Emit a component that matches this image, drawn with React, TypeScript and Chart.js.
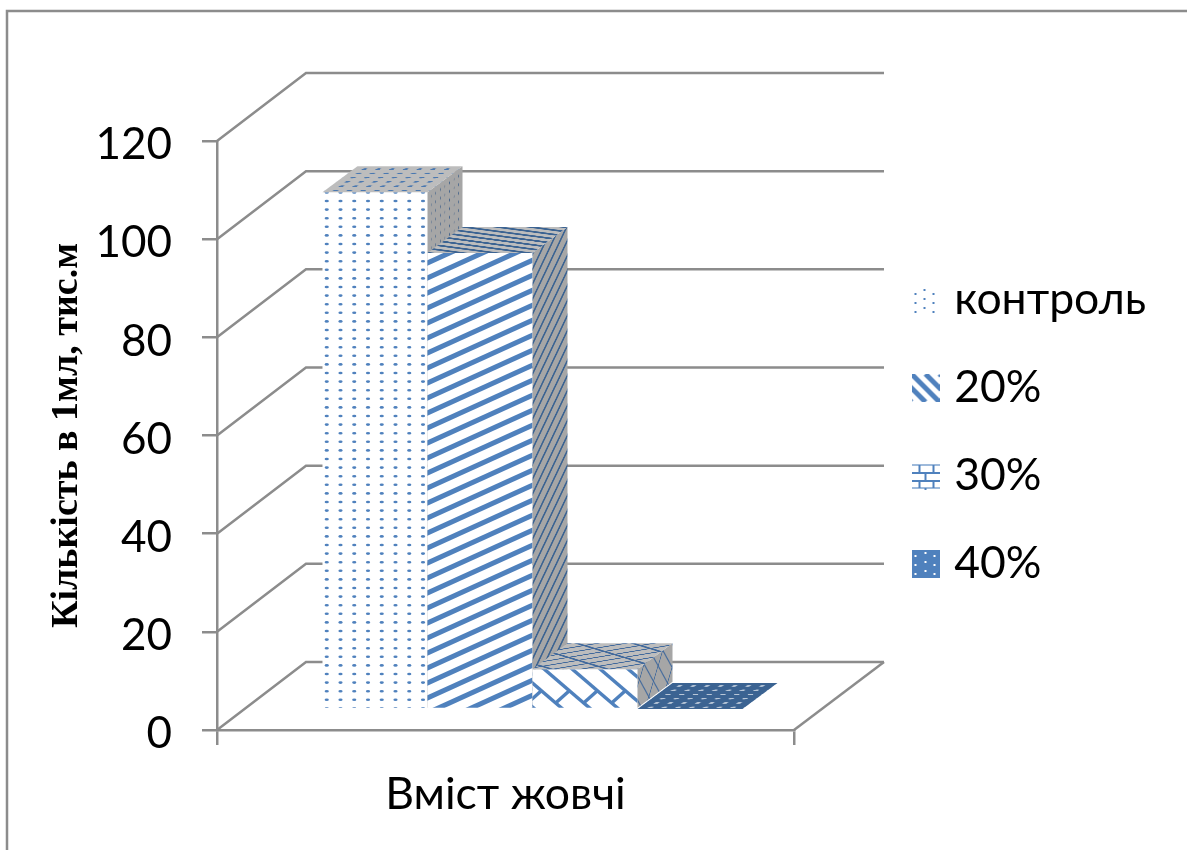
import React, { useEffect, useRef } from "react";
import { Chart, registerables } from "chart.js";

Chart.register(...registerables);

const categories = ["Вміст жовчі"];
const seriesNames = ["контроль", "20%", "30%", "40%"];
const controlValues = [105.3];
const bile20Values = [92.9];
const bile30Values = [8.1];
const bile40Values = [0];
const yTickStep = 20;
const yMax = 120;

const SANS = "Lato, 'Noto Sans', sans-serif";
const SERIF = "'Liberation Serif', serif";
const GRID = "#8c8c8c";
const GRID_WIDTH = 2.5;
const BLUE = "#4f81bd";
const DARK_BLUE = "#3b6392";
const TOP_GREY = "#bdbdbd";
const SIDE_GREY = "#a6a6a6";

// Oblique projection of the chart box: full wall depth, and the bars' place in it.
const WALL_DX = 89;
const WALL_DY = 68;
const BAR_SHIFT_X = 27;
const BAR_SHIFT_Y = 21;
const BAR_DX = 35;
const BAR_DY = 26;
const TEXTURE_SIZE = 105;

type Painter = (c: CanvasRenderingContext2D, w: number, h: number) => void;

function tile(w: number, h: number, bg: string | null, paint: Painter) {
  const el = document.createElement("canvas");
  el.width = w;
  el.height = h;
  const c = el.getContext("2d") as CanvasRenderingContext2D;
  if (bg) {
    c.fillStyle = bg;
    c.fillRect(0, 0, w, h);
  }
  paint(c, w, h);
  return el;
}

// Dots on a 13.75 px column grid; `rowStep` is 8.6 on upright faces and 17.2 on lying ones.
function dotTile(bg: string, fg: string, rx: number, ry: number, rowStep = 8.6) {
  return tile(55, 86, bg, (c) => {
    c.fillStyle = fg;
    const rows = Math.round(86 / rowStep);
    for (let i = -1; i < 5; i++) {
      for (let j = -1; j <= rows; j++) {
        c.beginPath();
        c.ellipse(11 + i * 13.75, 7 + j * rowStep, rx, ry, 0, 0, Math.PI * 2);
        c.fill();
      }
    }
  });
}

function stripeTile(bg: string, fg: string, lw: number) {
  return tile(33, 15, bg, (c, w, h) => {
    c.strokeStyle = fg;
    c.lineWidth = lw;
    for (let k = -2; k < 4; k++) {
      c.beginPath();
      c.moveTo(-w, 1 + h * k + h);
      c.lineTo(w * 2, 1 + h * k - 2 * h);
      c.stroke();
    }
  });
}

// Long diagonals joined by short rungs: staggered rungs read as bricks,
// aligned rungs with a wide step read as one zigzag band.
function brickTile(bg: string, fg: string, lw: number, zigzag = false) {
  return tile(56, 48, bg, (c) => {
    c.strokeStyle = fg;
    c.lineWidth = lw;
    const slope = 48 / 56;
    for (let i = -6; i < 8; i++) {
      const x0 = 20 + i * 28;
      c.beginPath();
      c.moveTo(x0 - 56, -48);
      c.lineTo(x0 + 112, 96);
      c.stroke();
      const stagger = zigzag ? 4.67 : (i + 100) % 2 === 0 ? 0 : 14;
      const step = zigzag ? 56 : 28;
      for (let k = -4; k < 8; k++) {
        const t = stagger + k * step;
        c.beginPath();
        c.moveTo(x0 + t, slope * t);
        c.lineTo(x0 + t + 13.66, slope * t - 12.3);
        c.stroke();
      }
    }
  });
}

function legendSwatches() {
  const dots = tile(28, 28, null, (c) => {
    c.fillStyle = BLUE;
    [[3, 7], [3, 16], [3, 25], [12, 3], [12, 12], [12, 21], [21, 7], [21, 16], [21, 25]].forEach(([x, y]) =>
      c.fillRect(x, y, 2, 2)
    );
  });
  const diag = tile(28, 28, "#ffffff", (c) => {
    c.strokeStyle = BLUE;
    c.lineWidth = 5;
    for (let k = -3; k < 3; k++) {
      c.beginPath();
      c.moveTo(k * 14, 0);
      c.lineTo(k * 14 + 28, 28);
      c.stroke();
    }
  });
  const brick = tile(28, 28, "#ffffff", (c) => {
    c.strokeStyle = BLUE;
    c.lineWidth = 2;
    [3, 11, 19, 26].forEach((y, i) => {
      c.globalAlpha = i === 0 || i === 3 ? 0.55 : 1;
      c.beginPath();
      c.moveTo(0, y);
      c.lineTo(28, y);
      c.stroke();
    });
    c.globalAlpha = 1;
    [[8, 3, 11], [22, 3, 11], [14, 11, 19], [8, 19, 26], [22, 19, 26], [14, 26, 28]].forEach(([x, a, b]) => {
      c.beginPath();
      c.moveTo(x, a);
      c.lineTo(x, b);
      c.stroke();
    });
  });
  const solid = tile(28, 28, BLUE, (c) => {
    c.fillStyle = "#ffffff";
    [[3, 5], [3, 14], [3, 23], [13, 2], [13, 11], [13, 20], [22, 5], [22, 14], [22, 23]].forEach(([x, y]) =>
      c.fillRect(x, y, 2, 2)
    );
  });
  return [dots, diag, brick, solid];
}

export default function App() {
  const ref = useRef<HTMLCanvasElement>(null);

  useEffect(() => {
    const canvas = ref.current as HTMLCanvasElement;
    const ctx = canvas.getContext("2d") as CanvasRenderingContext2D;
    const pat = (el: HTMLCanvasElement) => ctx.createPattern(el, "repeat") as CanvasPattern;

    const faces = [
      {
        front: pat(dotTile("#ffffff", BLUE, 2.1, 1.3)),
        top: pat(dotTile(TOP_GREY, "#4a78b0", 2.6, 3, 17.2)),
        side: pat(dotTile(SIDE_GREY, "#3f5f88", 1, 1.6)),
      },
      {
        front: pat(stripeTile("#ffffff", BLUE, 5)),
        top: pat(stripeTile(TOP_GREY, DARK_BLUE, 5.5)),
        side: pat(stripeTile(SIDE_GREY, DARK_BLUE, 3.4)),
      },
      {
        front: pat(brickTile("#ffffff", BLUE, 3.4, true)),
        top: pat(brickTile(TOP_GREY, "#41699c", 3.6)),
        side: pat(brickTile(SIDE_GREY, "#41699c", 1.8)),
      },
      {
        front: pat(dotTile(DARK_BLUE, "#dbe3ec", 2, 1.2)),
        top: pat(dotTile(DARK_BLUE, "#b9c7d8", 2.6, 3, 17.2)),
        side: pat(dotTile(DARK_BLUE, "#d3dde8", 1, 1.6)),
      },
    ];
    const swatches = legendSwatches();
    const seriesValues = [controlValues, bile20Values, bile30Values, bile40Values];

    const projection = {
      id: "projection",
      beforeLayout(chart: any) {
        // The legend reserves the space that the box's depth needs on the right.
        const legend = chart.legend;
        if (!legend.fixedFit) {
          const fit = legend.fit;
          legend.fit = function () {
            fit.call(this);
            this.width = 393;
          };
          legend.fixedFit = true;
        }
      },
      afterLayout(chart: any) {
        const legend = chart.legend;
        legend.left = 875.5;
        legend.right = 1187;
        legend.top = 234.25;
        legend.bottom = 850;
      },
      beforeDatasetsDraw(chart: any) {
        const c = chart.ctx;
        const { x, y } = chart.scales;
        const left = x.left;
        const right = x.right;
        c.save();
        c.strokeStyle = GRID;
        c.lineWidth = GRID_WIDTH;
        // Frame round the chart, open at the right and at the bottom.
        c.beginPath();
        c.moveTo(7, 850);
        c.lineTo(7, 11);
        c.lineTo(1187, 11);
        c.stroke();
        // Side wall and back wall lines for each value tick.
        y.ticks.forEach((tick: any) => {
          const py = y.getPixelForValue(tick.value);
          c.beginPath();
          c.moveTo(left, py);
          c.lineTo(left + WALL_DX, py - WALL_DY);
          c.lineTo(right + WALL_DX + 1, py - WALL_DY);
          c.stroke();
        });
        // Right edge of the floor.
        const floor = y.getPixelForValue(0);
        c.beginPath();
        c.moveTo(right, floor);
        c.lineTo(right + WALL_DX + 1, floor - WALL_DY);
        c.stroke();
        c.restore();

        // Boxes are painted first to last, so each one hides the side of the one before it.
        seriesNames.forEach((_, index) => {
          const meta = chart.getDatasetMeta(index);
          c.save();
          c.translate(BAR_SHIFT_X, -BAR_SHIFT_Y);
          meta.controller.draw();
          c.restore();
          const face = faces[index];
          meta.data.forEach((bar: any) => {
            const props = bar.getProps(["x", "y", "base", "width"], true);
            const l = props.x - props.width / 2 + BAR_SHIFT_X;
            const r = props.x + props.width / 2 + BAR_SHIFT_X;
            const topY = props.y - BAR_SHIFT_Y;
            const h = props.base - props.y;
            const ux = BAR_DX / TEXTURE_SIZE;
            const uy = BAR_DY / TEXTURE_SIZE;
            if (h > 0) {
              c.save();
              c.transform(ux, -uy, 0, 1, r, topY);
              c.fillStyle = face.side;
              c.fillRect(0, 0, TEXTURE_SIZE, h);
              c.restore();
            }
            c.save();
            c.transform(1, 0, ux, -uy, l, topY);
            c.fillStyle = face.top;
            c.fillRect(0, 0, props.width, TEXTURE_SIZE);
            c.restore();
          });
        });
        return false;
      },
    };

    const chart = new Chart(canvas, {
      type: "bar",
      data: {
        labels: categories,
        datasets: seriesNames.map((label, i) => ({
          label,
          data: seriesValues[i],
          backgroundColor: faces[i].front,
          borderWidth: 0,
        })),
      },
      options: {
        animation: false,
        responsive: false,
        devicePixelRatio: 1,
        layout: { padding: { top: 141, left: 0, right: 0, bottom: 0 } },
        datasets: { bar: { categoryPercentage: 0.728, barPercentage: 1 } },
        plugins: {
          title: { display: false },
          tooltip: { enabled: false },
          legend: {
            position: "right",
            align: "start",
            labels: {
              usePointStyle: true,
              boxWidth: 13,
              padding: 43.5,
              color: "#000000",
              font: { family: SANS, size: 44.5, lineHeight: 1 },
              generateLabels: () =>
                seriesNames.map((text, i) => ({
                  text,
                  datasetIndex: i,
                  pointStyle: swatches[i],
                  lineWidth: 0,
                  hidden: false,
                })),
            },
          },
        },
        scales: {
          x: {
            grid: { drawOnChartArea: false, tickLength: 15, color: GRID, lineWidth: GRID_WIDTH },
            border: { color: GRID, width: GRID_WIDTH },
            ticks: { display: false },
            title: {
              display: true,
              text: categories[0],
              color: "#000000",
              font: { family: SANS, size: 44.5, lineHeight: 1 },
              padding: { top: 0, bottom: 33 },
            },
            afterFit(scale: any) {
              scale.height = 120;
            },
          },
          y: {
            min: 0,
            max: yMax,
            grid: { drawOnChartArea: false, tickLength: 15, color: GRID, lineWidth: GRID_WIDTH },
            border: { color: GRID, width: GRID_WIDTH },
            ticks: {
              stepSize: yTickStep,
              padding: 30,
              color: "#000000",
              font: { family: SANS, size: 44, lineHeight: 1 },
            },
            title: {
              display: true,
              text: "Кількість в 1мл, тис.м",
              color: "#000000",
              font: { family: SERIF, size: 38, weight: "bold", lineHeight: 1 },
              padding: { top: 48, bottom: 0 },
            },
            afterFit(scale: any) {
              scale.width = 217;
              // Value labels sit a little below their tick marks.
              if (!scale.labelsNudged) {
                const items = scale.getLabelItems;
                scale.getLabelItems = function (area: any) {
                  return items
                    .call(this, area)
                    .map((item: any) => ({ ...item, textOffset: item.textOffset + 4 }));
                };
                scale.labelsNudged = true;
              }
            },
          },
        },
      },
      plugins: [projection],
    } as any);

    return () => chart.destroy();
  }, []);

  return (
    <div style={{ position: "absolute", left: 0, top: 0, background: "#ffffff" }}>
      <canvas ref={ref} width={1187} height={850} style={{ display: "block" }} />
    </div>
  );
}
